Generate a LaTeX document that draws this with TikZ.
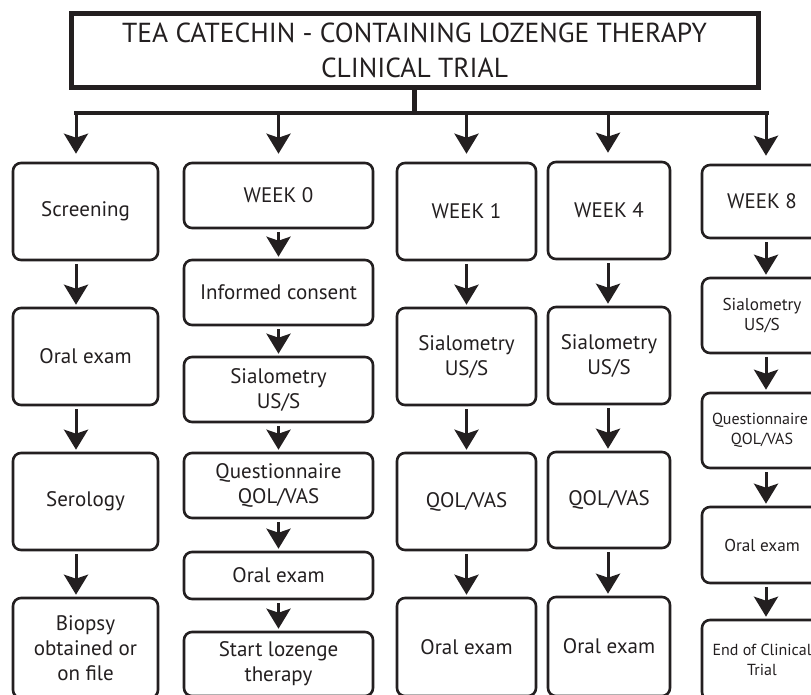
\documentclass[tikz,border=0pt]{standalone}
\usepackage{fontspec}
\setmainfont{PT Sans}
\newfontfamily\titlefont{PT Sans}
\usetikzlibrary{arrows.meta}
\definecolor{ink}{HTML}{231F20}
\begin{document}
\begin{tikzpicture}[x=1pt,y=-1pt,
  box/.style={draw=ink, text=ink, rounded corners=8pt, line width=2.6pt, align=center, inner sep=0pt, font=\fontsize{21}{25}\selectfont},
  smallbox/.style={box, font=\fontsize{17.2}{20.5}\selectfont},
  tinybox/.style={box, font=\fontsize{16}{20}\selectfont},
  arr/.style={draw=ink, line width=3pt, -{Stealth[length=20pt,width=24pt,inset=4pt]}, shorten <=3pt, shorten >=2pt},
  toparr/.style={arr, shorten <=0pt, shorten >=8pt},
  heavy/.style={draw=ink, line width=4.6pt}]
\useasboundingbox (0,0) rectangle (811,694);
\fill[white] (0,0) rectangle (811,694);
\clip (0,0) rectangle (811,694);

% title
\node[draw=ink, line width=5pt, minimum width=687pt, minimum height=74pt, inner sep=0pt, align=center, text=ink,
  font=\titlefont\fontsize{27.5}{35}\selectfont] (title) at (414.5,50.5)
  {TEA CATECHIN - CONTAINING LOZENGE THERAPY\\CLINICAL TRIAL};

% bar
\coordinate (bL) at (74,113);
\coordinate (bR) at (768.5,113);
\coordinate (b1) at (76,113);
\coordinate (b2) at (278.5,113);
\coordinate (b3) at (466.5,113);
\coordinate (b4) at (608,113);
\coordinate (b5) at (766,113);
\draw[heavy] (title.south) -- (title.south |- bL);
\draw[heavy] (bL) -- (bR);

% column 1
\node[box, minimum width=145pt, minimum height=97pt] (scr) at (85.5,211.5) {Screening};
\node[box, minimum width=145pt, minimum height=97pt] (oe1) at (85.5,356.5) {Oral exam};
\node[box, minimum width=145pt, minimum height=97pt] (ser) at (85.5,501.5) {Serology};
\node[box, minimum width=145pt, minimum height=100pt] (bio) at (85.5,648) {Biopsy\\obtained or\\on file};

% column 2
\node[box, minimum width=189pt, minimum height=65pt] (w0) at (278.5,195.5) {WEEK 0};
\node[box, minimum width=189pt, minimum height=65pt] (ic) at (278.5,292.5) {Informed consent};
\node[box, minimum width=189pt, minimum height=65pt] (si0) at (278.5,389.5) {Sialometry\\US/S};
\node[box, minimum width=189pt, minimum height=65pt] (q0) at (278.5,485.5) {Questionnaire\\QOL/VAS};
\node[box, minimum width=189pt, minimum height=47pt] (oe0) at (278.5,575.5) {Oral exam};
\node[box, minimum width=189pt, minimum height=64pt] (sl) at (278.5,664) {Start lozenge\\therapy};

% column 3
\node[box, minimum width=139pt, minimum height=97pt] (w1) at (466.5,211.5) {WEEK 1};
\node[box, minimum width=139pt, minimum height=97pt] (si1) at (466.5,356.5) {Sialometry\\US/S};
\node[box, minimum width=139pt, minimum height=97pt] (qv1) at (466.5,501.5) {QOL/VAS};
\node[box, minimum width=139pt, minimum height=98pt] (oe3) at (466.5,647) {Oral exam};

% column 4
\node[box, minimum width=122pt, minimum height=97pt] (w4) at (609,210.5) {WEEK 4};
\node[box, minimum width=122pt, minimum height=97pt] (si4) at (609,355.5) {Sialometry\\US/S};
\node[box, minimum width=122pt, minimum height=96pt] (qv4) at (609,500) {QOL/VAS};
\node[box, minimum width=122pt, minimum height=99pt] (oe4) at (609,646.5) {Oral exam};

% column 5
\node[box, minimum width=120pt, minimum height=73pt] (w8) at (762,201.5) {WEEK 8};
\node[smallbox, minimum width=120pt, minimum height=75pt] (si8) at (762,315.5) {Sialometry\\US/S};
\node[tinybox, minimum width=120pt, minimum height=75pt] (q8) at (762,430.5) {\makebox[0pt]{\hspace*{-4pt}Questionnaire}\\QOL/VAS};
\node[smallbox, minimum width=120pt, minimum height=76pt] (oe8) at (762,545) {Oral exam};
\node[tinybox, minimum width=120pt, minimum height=80pt] (end) at (762,660) {End of Clinical\\Trial};

% top arrows
\draw[toparr] (b1) -- (b1 |- scr.north);
\draw[toparr] (b2) -- (b2 |- w0.north);
\draw[toparr] (b3) -- (b3 |- w1.north);
\draw[toparr] (b4) -- (b4 |- w4.north);
\draw[toparr] (b5) -- (b5 |- w8.north);

% column arrows
\draw[arr] (b1 |- scr.south) -- (b1 |- oe1.north);
\draw[arr] (b1 |- oe1.south) -- (b1 |- ser.north);
\draw[arr] (b1 |- ser.south) -- (b1 |- bio.north);

\draw[arr] (w0) -- (ic);
\draw[arr] (ic) -- (si0);
\draw[arr] (si0) -- (q0);
\draw[arr] (q0) -- (oe0);
\draw[arr] (oe0) -- (sl);

\draw[arr] (w1) -- (si1);
\draw[arr] (si1) -- (qv1);
\draw[arr] (qv1) -- (oe3);

\draw[arr] (b4 |- w4.south) -- (b4 |- si4.north);
\draw[arr] (b4 |- si4.south) -- (b4 |- qv4.north);
\draw[arr] (b4 |- qv4.south) -- (b4 |- oe4.north);

\draw[arr] (b5 |- w8.south) -- (b5 |- si8.north);
\draw[arr] (b5 |- si8.south) -- (b5 |- q8.north);
\draw[arr] (b5 |- q8.south) -- (b5 |- oe8.north);
\draw[arr] (b5 |- oe8.south) -- (b5 |- end.north);
\end{tikzpicture}
\end{document}
